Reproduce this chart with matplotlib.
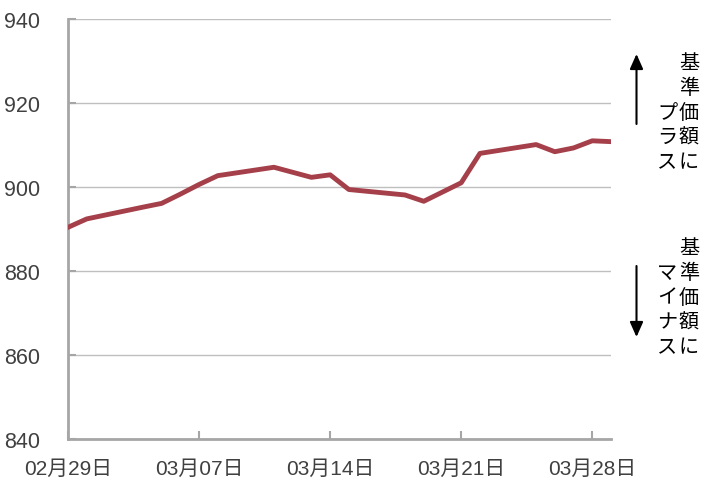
import matplotlib
matplotlib.use("Agg")
import matplotlib.pyplot as plt
import matplotlib.dates as mdates
import pandas as pd

dates = ["2024-02-29", "2024-03-01", "2024-03-04", "2024-03-05", "2024-03-06",
         "2024-03-07", "2024-03-08", "2024-03-11", "2024-03-12", "2024-03-13",
         "2024-03-14", "2024-03-15", "2024-03-18", "2024-03-19", "2024-03-21",
         "2024-03-22", "2024-03-25", "2024-03-26", "2024-03-27", "2024-03-28",
         "2024-03-29"]
values = [890.4, 892.4, 895.2, 896.1, 898.3,
          900.6, 902.7, 904.7, 903.5, 902.3,
          902.9, 899.4, 898.1, 896.6, 901.0,
          908.0, 910.1, 908.4, 909.3, 911.0,
          910.8]
tick_dates = ["2024-02-29", "2024-03-07", "2024-03-14", "2024-03-21", "2024-03-28"]
y_ticks = [840, 860, 880, 900, 920, 940]
plus_col1 = "基準価額に"
plus_col2 = "プラス"
minus_col1 = "基準価額に"
minus_col2 = "マイナス"

FONT = ["Liberation Sans", "Noto Sans CJK JP", "DejaVu Sans"]
CJK = ["Noto Sans CJK JP", "DejaVu Sans"]
plt.rcParams["font.family"] = FONT

W, H = 704, 481
fig = plt.figure(figsize=(W / 100, H / 100), dpi=100)
ax = fig.add_axes([68 / W, 1 - 440 / H, (611 - 68) / W, (440 - 20) / H])

x = pd.to_datetime(dates)
ax.plot(x, values, color="#A5404A", lw=3.5, solid_joinstyle="round", zorder=3)

ax.set_ylim(840, 940)
ax.set_yticks(y_ticks)
ax.set_xlim(pd.Timestamp("2024-02-29"), pd.Timestamp("2024-03-29"))
ax.set_xticks(pd.to_datetime(tick_dates))
ax.xaxis.set_major_formatter(mdates.DateFormatter("%m月%d日"))

ax.grid(axis="y", color="#BFBFBF", lw=1.0)
ax.set_axisbelow(True)
for s in ["top", "right"]:
    ax.spines[s].set_visible(False)
for s in ["left", "bottom"]:
    ax.spines[s].set_color("#A6A6A6")
    ax.spines[s].set_linewidth(2.0)

ax.tick_params(axis="y", direction="in", length=6, width=1.5, color="#A6A6A6",
               labelsize=15.5, labelcolor="#404040", pad=20)
ax.tick_params(axis="x", direction="in", length=6, width=1.5, color="#A6A6A6",
               labelsize=15, labelcolor="#404040", pad=14)
for lab in ax.get_xticklabels() + ax.get_yticklabels():
    lab.set_family(FONT)

def col_text(xpix, ytop, text, bottom_align_len=None):
    n = len(text)
    offset = 0
    if bottom_align_len is not None:
        offset = bottom_align_len - n
    for i, ch in enumerate(text):
        ypix = ytop + (i + offset) * 24.6
        fig.text(xpix / W, 1 - ypix / H, ch, family=CJK, fontsize=14.5,
                 color="#000000", ha="center", va="center")

col_text(689, 64, plus_col1)
col_text(667, 64, plus_col2, bottom_align_len=len(plus_col1))
col_text(689, 249, minus_col1)
col_text(667, 249, minus_col2, bottom_align_len=len(minus_col1))

ax.annotate("", xy=(636.5 / W, 1 - 55 / H), xytext=(636.5 / W, 1 - 125 / H),
            xycoords="figure fraction", textcoords="figure fraction",
            arrowprops=dict(arrowstyle="-|>,head_length=0.9,head_width=0.4",
                            color="black", lw=1.5, shrinkA=0, shrinkB=0))
ax.annotate("", xy=(636.5 / W, 1 - 338 / H), xytext=(636.5 / W, 1 - 267 / H),
            xycoords="figure fraction", textcoords="figure fraction",
            arrowprops=dict(arrowstyle="-|>,head_length=0.9,head_width=0.4",
                            color="black", lw=1.5, shrinkA=0, shrinkB=0))

fig.savefig("out.png", dpi=100)
